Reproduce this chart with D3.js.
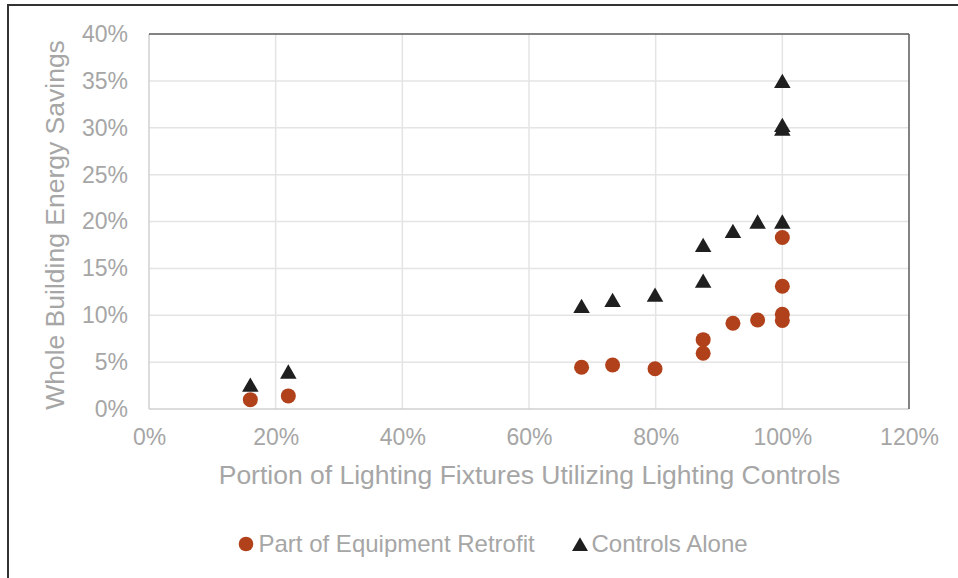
<!DOCTYPE html>
<html><head><meta charset="utf-8">
<script src="https://cdn.jsdelivr.net/npm/d3@7"></script>
<style>body{margin:0;background:#fff;}svg{display:block;font-family:"Liberation Sans",Arial,sans-serif;}</style>
</head><body><svg id="c" width="958" height="578"></svg>
<script>
const retrofitX = [16, 22, 68.3, 73.2, 79.9, 87.5, 87.5, 92.2, 96.1, 100, 100, 100, 100];
const retrofitY = [1.0, 1.4, 4.45, 4.7, 4.3, 5.95, 7.4, 9.15, 9.5, 18.3, 13.1, 10.1, 9.45];
const controlsX = [16, 22, 68.3, 73.2, 79.9, 87.5, 87.5, 92.2, 96.1, 100, 100, 100, 100];
const controlsY = [2.6, 4.0, 11.0, 11.65, 12.2, 13.7, 17.5, 19.0, 20.0, 20.0, 29.9, 30.3, 35.0];
const xTicks = [0, 20, 40, 60, 80, 100, 120];
const yTicks = [0, 5, 10, 15, 20, 25, 30, 35, 40];
const seriesNames = ["Part of Equipment Retrofit", "Controls Alone"];
const xTitle = "Portion of Lighting Fixtures Utilizing Lighting Controls";
const yTitle = "Whole Building Energy Savings";

const svg = d3.select("#c");
const L = 149, R = 909, T = 34, B = 409;
const x = d3.scaleLinear().domain([0, 120]).range([L, R]);
const y = d3.scaleLinear().domain([0, 40]).range([B, T]);
const orange = "#b0411a", dark = "#1f1f1f", txt = "#a6a6a6";
const font = '"Liberation Sans",Arial,sans-serif';

// outer frame
svg.append("rect").attr("x", 8).attr("y", 5).attr("width", 960).attr("height", 600)
  .attr("fill", "none").attr("stroke", "#333").attr("stroke-width", 2);

// gridlines
const grid = svg.append("g");
grid.selectAll(".gy").data(yTicks.filter(d => d > 0 && d < 40)).join("line")
  .attr("x1", L).attr("x2", R).attr("y1", d => y(d)).attr("y2", d => y(d))
  .attr("stroke", "#e4e4e4").attr("stroke-width", 1.5);
grid.selectAll(".gx").data(xTicks.filter(d => d > 0 && d < 120)).join("line")
  .attr("y1", T).attr("y2", B).attr("x1", d => x(d)).attr("x2", d => x(d))
  .attr("stroke", "#e4e4e4").attr("stroke-width", 1.5);

// plot borders
svg.append("line").attr("x1", L).attr("x2", L).attr("y1", T).attr("y2", B).attr("stroke", "#d0d0d0").attr("stroke-width", 1.5);
svg.append("line").attr("x1", L).attr("x2", R).attr("y1", B).attr("y2", B).attr("stroke", "#d0d0d0").attr("stroke-width", 1.5);
svg.append("line").attr("x1", L).attr("x2", R).attr("y1", T).attr("y2", T).attr("stroke", "#5a5a5a").attr("stroke-width", 1.5);
svg.append("line").attr("x1", R).attr("x2", R).attr("y1", T).attr("y2", B).attr("stroke", "#5a5a5a").attr("stroke-width", 1.5);

// axes
const xAxis = svg.append("g").attr("transform", `translate(0,${B})`)
  .call(d3.axisBottom(x).tickValues(xTicks).tickFormat(d => d + "%").tickSize(0).tickPadding(20));
const yAxis = svg.append("g").attr("transform", `translate(${L},0)`)
  .call(d3.axisLeft(y).tickValues(yTicks).tickFormat(d => d + "%").tickSize(0).tickPadding(21));
[xAxis, yAxis].forEach(a => {
  a.select(".domain").remove();
  a.selectAll("text").attr("fill", txt).attr("font-size", 23).attr("font-family", font);
});

// titles
svg.append("text").attr("x", 529.5).attr("y", 483.5).attr("text-anchor", "middle")
  .attr("fill", txt).attr("font-size", 26.5).text(xTitle);
svg.append("text").attr("transform", `translate(63.5,225) rotate(-90)`).attr("text-anchor", "middle")
  .attr("fill", txt).attr("font-size", 26.5).text(yTitle);

// markers
const triSize = 118;
const triOff = Math.sqrt(triSize / (Math.sqrt(3) * 3)) / 2;
const tri = d3.symbol().type(d3.symbolTriangle).size(triSize);
const pts = svg.append("g");
pts.selectAll(".c").data(retrofitX.map((d, i) => [d, retrofitY[i]])).join("circle")
  .attr("cx", d => x(d[0])).attr("cy", d => y(d[1])).attr("r", 7.5).attr("fill", orange);
pts.selectAll(".t").data(controlsX.map((d, i) => [d, controlsY[i]])).join("path")
  .attr("d", tri).attr("transform", d => `translate(${x(d[0])},${y(d[1]) + triOff})`).attr("fill", dark);

// legend
const lg = svg.append("g");
lg.append("circle").attr("cx", 246).attr("cy", 544).attr("r", 7.3).attr("fill", orange);
lg.append("text").attr("x", 258.5).attr("y", 552).attr("fill", txt).attr("font-size", 24).text(seriesNames[0]);
lg.append("path").attr("d", d3.symbol().type(d3.symbolTriangle).size(110)).attr("transform", `translate(580,${544 + triOff})`).attr("fill", dark);
lg.append("text").attr("x", 591.5).attr("y", 552).attr("fill", txt).attr("font-size", 24).text(seriesNames[1]);
</script></body></html>
